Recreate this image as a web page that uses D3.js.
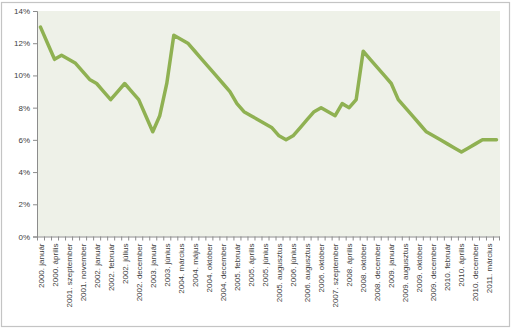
<!DOCTYPE html>
<html>
<head>
<meta charset="utf-8">
<script src="https://cdn.jsdelivr.net/npm/d3@7"></script>
<style>
  html, body { margin: 0; padding: 0; background: #ffffff; }
  svg { display: block; }
  text { font-family: "Liberation Sans", Arial, sans-serif; fill: #404040; }
</style>
</head>
<body>
<svg id="chart" width="512" height="329"></svg>
<script>
// Dates of the base-rate decisions (every other one is labelled on the axis)
const categories = [
  "2000. január", "2000. március", "2000. április", "2000. november",
  "2001. szeptember", "2001. október", "2001. november", "2001. december",
  "2002. január", "2002. január", "2002. február", "2002. május",
  "2002. július", "2002. november", "2002. december", "2003. január",
  "2003. január", "2003. június", "2003. június", "2003. november",
  "2004. március", "2004. április", "2004. május", "2004. augusztus",
  "2004. október", "2004. november", "2004. december", "2005. január",
  "2005. február", "2005. március", "2005. április", "2005. május",
  "2005. június", "2005. július", "2005. augusztus", "2005. szeptember",
  "2006. június", "2006. július", "2006. augusztus", "2006. szeptember",
  "2006. október", "2007. június", "2007. szeptember", "2008. február",
  "2008. április", "2008. május", "2008. október", "2008. november",
  "2008. december", "2008. december", "2009. január", "2009. július",
  "2009. augusztus", "2009. szeptember", "2009. október", "2009. november",
  "2009. december", "2010. január", "2010. február", "2010. március",
  "2010. április", "2010. november", "2010. december", "2011. január",
  "2011. március", "2011. április"
];

// Rate in percent at each decision
const rates = [
  13.0, 12.0, 11.0, 11.25, 11.0, 10.75, 10.25, 9.75, 9.5, 9.0,
  8.5, 9.0, 9.5, 9.0, 8.5, 7.5, 6.5, 7.5, 9.5, 12.5,
  12.25, 12.0, 11.5, 11.0, 10.5, 10.0, 9.5, 9.0, 8.25, 7.75,
  7.5, 7.25, 7.0, 6.75, 6.25, 6.0, 6.25, 6.75, 7.25, 7.75,
  8.0, 7.75, 7.5, 8.25, 8.0, 8.5, 11.5, 11.0, 10.5, 10.0,
  9.5, 8.5, 8.0, 7.5, 7.0, 6.5, 6.25, 6.0, 5.75, 5.5,
  5.25, 5.5, 5.75, 6.0, 6.0, 6.0
];

const yTicks = [0, 2, 4, 6, 8, 10, 12, 14];

const W = 512, H = 329;
const margin = { left: 37, top: 11, right: 12, bottom: 92.5 };
const innerW = W - margin.left - margin.right;
const innerH = H - margin.top - margin.bottom;

const svg = d3.select("#chart");

// Chart frame
svg.append("rect")
  .attr("x", 1.5).attr("y", 2.5)
  .attr("width", W - 4).attr("height", H - 5)
  .attr("fill", "#ffffff")
  .attr("stroke", "#c4c4c4")
  .attr("stroke-width", 1.2);

const g = svg.append("g").attr("transform", `translate(${margin.left},${margin.top})`);

const x = d3.scaleBand()
  .domain(d3.range(categories.length))
  .range([0, innerW])
  .paddingInner(0).paddingOuter(0);

const y = d3.scaleLinear().domain([0, 14]).range([innerH, 0]);

// Plot area background
g.append("rect")
  .attr("x", 0).attr("y", 0)
  .attr("width", innerW).attr("height", innerH)
  .attr("fill", "#eef1e8");

// Y axis
const yAxis = g.append("g")
  .call(d3.axisLeft(y).tickValues(yTicks).tickFormat(d => d + "%").tickSize(4).tickPadding(3));
yAxis.select(".domain").attr("stroke", "#8c8c8c");
yAxis.selectAll(".tick line").attr("stroke", "#8c8c8c");
yAxis.selectAll(".tick text").attr("font-size", 8).attr("fill", "#404040");

// X axis: tick marks on category boundaries, labels on every other category
const xAxis = g.append("g").attr("transform", `translate(0,${innerH})`);
xAxis.append("line")
  .attr("x1", 0).attr("x2", innerW)
  .attr("y1", 0.5).attr("y2", 0.5)
  .attr("stroke", "#8c8c8c");
xAxis.selectAll("line.tk")
  .data(d3.range(categories.length + 1))
  .join("line")
  .attr("class", "tk")
  .attr("x1", i => i < categories.length ? x(i) + 0.5 : innerW - 0.5)
  .attr("x2", i => i < categories.length ? x(i) + 0.5 : innerW - 0.5)
  .attr("y1", 0).attr("y2", 4)
  .attr("stroke", "#8c8c8c");

const labelIdx = d3.range(0, categories.length, 2);
xAxis.selectAll("text.lbl")
  .data(labelIdx)
  .join("text")
  .attr("class", "lbl")
  .attr("transform", i => `translate(${x(i) + x.bandwidth() / 2 + 3},7) rotate(-90)`)
  .attr("text-anchor", "end")
  .attr("font-size", 8)
  .attr("fill", "#404040")
  .text(i => categories[i]);

// Rate line
const line = d3.line()
  .x((d, i) => x(i) + x.bandwidth() / 2)
  .y(d => y(d));

g.append("path")
  .datum(rates)
  .attr("fill", "none")
  .attr("stroke", "#8fb152")
  .attr("stroke-width", 3.5)
  .attr("stroke-linejoin", "round")
  .attr("stroke-linecap", "round")
  .attr("d", line);
</script>
</body>
</html>
